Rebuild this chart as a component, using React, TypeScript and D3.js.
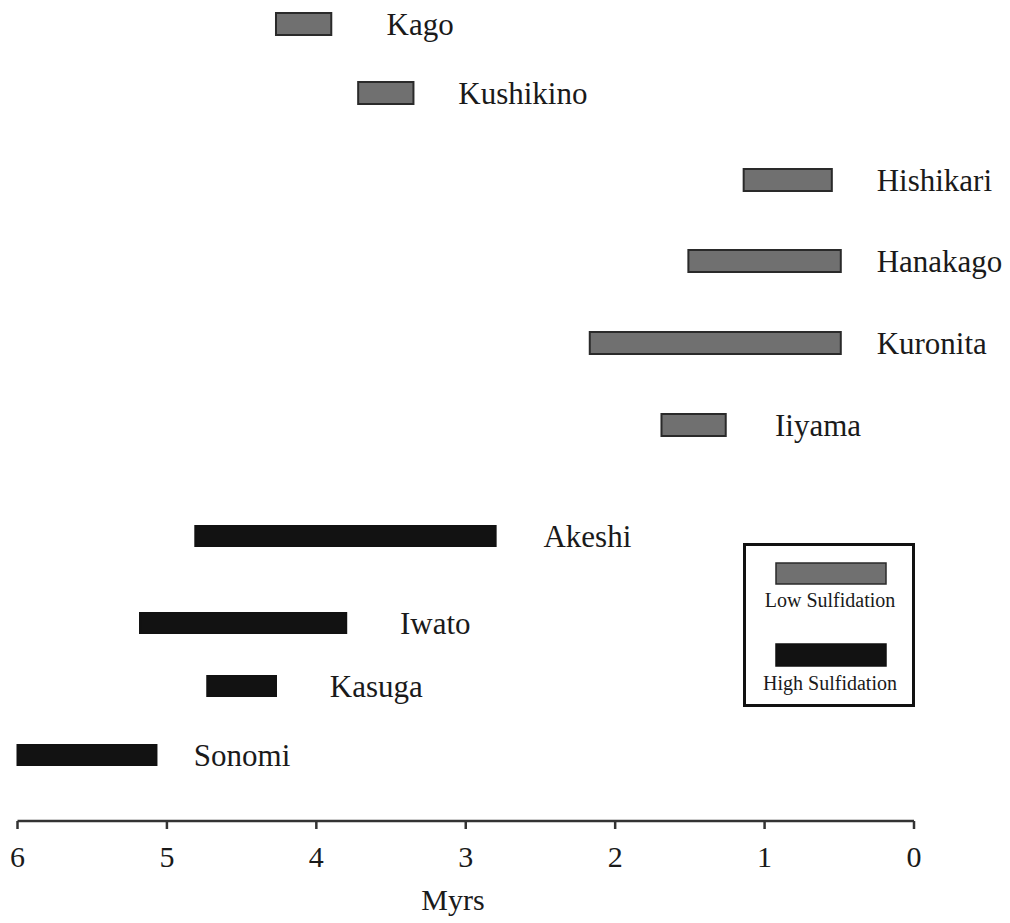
import React from "react";
import * as d3 from "d3";

// ---- data ----
const deposits = ["Kago", "Kushikino", "Hishikari", "Hanakago", "Kuronita", "Iiyama", "Akeshi", "Iwato", "Kasuga", "Sonomi"];
const startAge = [4.27, 3.72, 1.14, 1.51, 2.17, 1.69, 4.81, 5.18, 4.73, 6.0];
const endAge = [3.9, 3.35, 0.55, 0.49, 0.49, 1.26, 2.8, 3.8, 4.27, 5.07];
const sulfidation = ["Low", "Low", "Low", "Low", "Low", "Low", "High", "High", "High", "High"];
const labelAge = [3.53, 3.05, 0.25, 0.25, 0.25, 0.93, 2.48, 3.44, 3.91, 4.82];
const xTicks = [6, 5, 4, 3, 2, 1, 0];
const legendItems = ["Low Sulfidation", "High Sulfidation"];

// ---- layout ----
const W = 1010;
const H = 923;
const rowCenters = [24, 93, 180, 261, 343, 425, 536, 623, 686, 755];
const axisY = 821;
const FONT = "'Liberation Serif', 'Times New Roman', serif";
const LOW_FILL = "#707070";
const HIGH_FILL = "#121212";
const TEXT = "#1a1a1a";

export default function App() {
  const x = d3.scaleLinear().domain([6, 0]).range([17.5, 914]);
  const y = d3.scaleOrdinal<string, number>().domain(deposits).range(rowCenters);

  const tickPath = (v: number) => `M${x(v)},${axisY} v8`;

  return (
    <svg width={W} height={H} style={{ position: "absolute", left: 0, top: 0, background: "#fff" }} fontFamily={FONT}>
      {deposits.map((d, i) => {
        const low = sulfidation[i] === "Low";
        const h = low ? 22 : 20;
        const cy = y(d);
        return (
          <g key={d}>
            <rect
              x={x(startAge[i])}
              y={cy - h / 2}
              width={x(endAge[i]) - x(startAge[i])}
              height={h}
              fill={low ? LOW_FILL : HIGH_FILL}
              stroke={low ? "#2a2a2a" : "#111"}
              strokeWidth={2}
            />
            <text x={x(labelAge[i])} y={cy + 11} fontSize={31} fill={TEXT}>
              {d}
            </text>
          </g>
        );
      })}

      {/* axis */}
      <line x1={x(6)} x2={x(0)} y1={axisY} y2={axisY} stroke="#333" strokeWidth={2.5} />
      {xTicks.map((t) => (
        <g key={t}>
          <path d={tickPath(t)} stroke="#333" strokeWidth={2.5} fill="none" />
          <text x={x(t)} y={867} fontSize={30} textAnchor="middle" fill={TEXT}>
            {t}
          </text>
        </g>
      ))}
      <text x={453} y={910} fontSize={30} textAnchor="middle" fill={TEXT}>
        Myrs
      </text>

      {/* legend */}
      <rect x={744.5} y={544.5} width={169} height={161} fill="#fff" stroke="#111" strokeWidth={3} />
      <rect x={776} y={563} width={110} height={21} fill={LOW_FILL} stroke="#2a2a2a" strokeWidth={1.5} />
      <text x={830} y={607} fontSize={20} textAnchor="middle" fill={TEXT}>
        {legendItems[0]}
      </text>
      <rect x={776} y={644} width={110} height={22} fill={HIGH_FILL} stroke="#111" strokeWidth={1.5} />
      <text x={830} y={690} fontSize={20} textAnchor="middle" fill={TEXT}>
        {legendItems[1]}
      </text>
    </svg>
  );
}
